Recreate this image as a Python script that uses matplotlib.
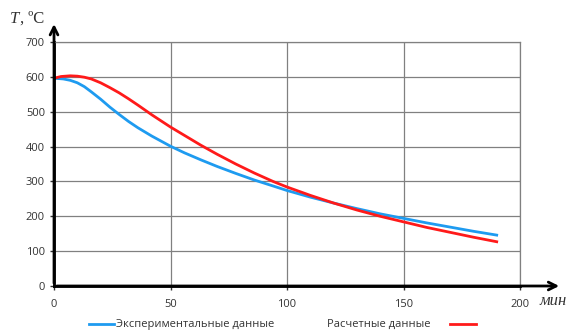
import matplotlib.pyplot as plt
from matplotlib.lines import Line2D

# time, min
t_exp = [0, 4, 7, 10, 13, 16, 20, 24, 28, 32, 36, 42, 50, 56, 63, 70, 78, 86, 94, 100,
         110, 120, 130, 140, 150, 160, 170, 180, 190]
T_exp = [596, 594, 590, 583, 572, 557, 536, 513, 492, 472, 454, 430, 401, 382, 362, 343, 323, 304, 287, 274,
         255, 238, 222, 207, 194, 181, 169, 157, 146]

t_calc = [0, 3, 7, 10, 13, 16, 20, 24, 28, 32, 36, 42, 50, 56, 63, 70, 78, 86, 94, 100,
          110, 120, 130, 140, 150, 160, 170, 180, 190]
T_calc = [596, 601, 603, 602, 599, 594, 583, 569, 554, 537, 519, 491, 456, 432, 404, 378, 350, 324, 300, 284,
          260, 238, 218, 200, 184, 168, 154, 140, 127]

xticks = [0, 50, 100, 150, 200]
yticks = [0, 100, 200, 300, 400, 500, 600, 700]
legend_labels = ["Экспериментальные данные", "Расчетные данные"]

fig = plt.figure(figsize=(5.71, 3.36), dpi=100)
ax = fig.add_axes([0.0946, 0.1488, 0.8161, 0.7262])

ax.plot(t_exp, T_exp, color="#1e9bf0", lw=2, solid_joinstyle="round")
ax.plot(t_calc, T_calc, color="#ff1a1a", lw=2, solid_joinstyle="round")

ax.set_xlim(0, 200)
ax.set_ylim(0, 700)
ax.set_xticks(xticks)
ax.set_yticks(yticks)
ax.grid(True, color="#808080", lw=0.9)
ax.set_axisbelow(True)
ax.tick_params(labelsize=8, colors="#333333", length=3, width=1)
for lab in ax.get_xticklabels() + ax.get_yticklabels():
    lab.set_family("Open Sans")
ax.tick_params(axis="x", pad=6)
for side in ["top", "right"]:
    ax.spines[side].set_color("#808080")
    ax.spines[side].set_linewidth(0.9)
ax.spines["left"].set_linewidth(2)
ax.spines["bottom"].set_linewidth(2)

# axis arrows
ax.annotate("", xy=(1.09, 0), xytext=(0, 0), xycoords="axes fraction",
            arrowprops=dict(arrowstyle="->", lw=2, color="black", mutation_scale=14))
ax.annotate("", xy=(0, 1.085), xytext=(0, 0), xycoords="axes fraction",
            arrowprops=dict(arrowstyle="->", lw=2, color="black", mutation_scale=14))

fig.text(0.017, 0.932, "T", family="Liberation Serif", style="italic", fontsize=12, color="#333333")
fig.text(0.035, 0.932, ", ºC", family="Liberation Serif", fontsize=12, color="#333333")
fig.text(0.945, 0.093, "мин", family="Liberation Serif", style="italic", fontsize=12, color="#333333")

# legend drawn by hand: blue line before text, red line after
fig.add_artist(Line2D([0.155, 0.2], [0.035, 0.035], color="#1e9bf0", lw=2))
fig.text(0.203, 0.035, legend_labels[0], fontsize=8, family="Open Sans", color="#333333", va="center")
fig.text(0.572, 0.035, legend_labels[1], fontsize=8, family="Open Sans", color="#333333", va="center")
fig.add_artist(Line2D([0.788, 0.834], [0.035, 0.035], color="#ff1a1a", lw=2))

fig.savefig("out.png", dpi=100)
